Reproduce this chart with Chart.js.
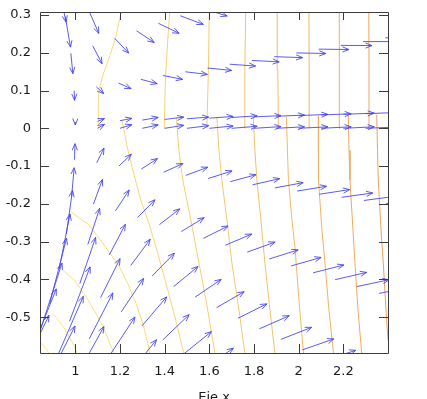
<!DOCTYPE html>
<html>
<head>
<meta charset="utf-8">
<script src="https://cdn.jsdelivr.net/npm/chart.js@4.4.0/dist/chart.umd.min.js"></script>
<style>
  html, body { margin: 0; padding: 0; background: #fff; overflow: hidden; }
  canvas { display: block; }
</style>
</head>
<body>
<canvas id="campo" width="427" height="410"></canvas>
<script>
// axis ranges and tick labels
const xRange = [0.842, 2.4];
const yRange = [-0.595, 0.308];
const xTicks = [1, 1.2, 1.4, 1.6, 1.8, 2, 2.2];
const yTicks = [-0.5, -0.4, -0.3, -0.2, -0.1, 0, 0.1, 0.2, 0.3];

// vectors: tail (arrowX, arrowY) and components (arrowU, arrowV), read row by row
const arrowX = [
  0.9211,
  0.9553, 1.0509,
  0.9801, 1.0781, 1.1761, 1.2741, 1.3721, 1.4701, 1.5681,
  0.995, 1.0945, 1.194, 1.2935, 1.393, 1.4925, 1.592, 1.6915, 1.791, 1.8905, 1.99, 2.0895, 2.189, 2.2885, 2.388,
  1.0, 1.1, 1.2, 1.3, 1.4, 1.5, 1.6, 1.7, 1.8, 1.9, 2.0, 2.1, 2.2, 2.3, 2.4,
  1.1, 1.2, 1.3, 1.4, 1.5, 1.6, 1.7, 1.8, 1.9, 2.0, 2.1, 2.2, 2.3, 2.4,
  0.9965, 1.0962, 1.1958, 1.2955, 1.3952, 1.4948, 1.5945, 1.6941, 1.7938, 1.8934, 1.9931, 2.0927, 2.1924, 2.292, 2.3917,
  0.9833, 1.0816, 1.1799, 1.2783, 1.3766, 1.4749, 1.5732, 1.6716, 1.7699, 1.8682, 1.9665, 2.0649, 2.1632, 2.2615, 2.3598,
  0.9602, 1.0562, 1.1522, 1.2482, 1.3442, 1.4403, 1.5363, 1.6323, 1.7283, 1.8243, 1.9203, 2.0164, 2.1124,
  0.9275, 1.0202, 1.113, 1.2057, 1.2985, 1.3912, 1.484, 1.5767,
  0.8855, 0.9741, 1.0626, 1.1512, 1.2397,
  0.8347, 0.9182, 1.0016,
  0.7756, 0.8531,
  0.7087
];
const arrowY = [
  0.3894,
  0.2955, 0.3251,
  0.1987, 0.2185, 0.2384, 0.2583, 0.2781, 0.298, 0.3179,
  0.0998, 0.1098, 0.1198, 0.1298, 0.1398, 0.1497, 0.1597, 0.1697, 0.1797, 0.1897, 0.1997, 0.2097, 0.2196, 0.2296, 0.2396,
  0.0168, 0.0185, 0.0202, 0.0218, 0.0235, 0.0252, 0.0269, 0.0286, 0.0303, 0.0319, 0.0336, 0.0353, 0.037, 0.0387, 0.0403,
  0, 0, 0, 0, 0, 0, 0, 0, 0, 0, 0, 0, 0, 0,
  -0.0831, -0.0914, -0.0997, -0.108, -0.1163, -0.1247, -0.133, -0.1413, -0.1496, -0.1579, -0.1662, -0.1745, -0.1828, -0.1911, -0.1994,
  -0.1822, -0.2004, -0.2186, -0.2368, -0.2551, -0.2733, -0.2915, -0.3097, -0.3279, -0.3461, -0.3644, -0.3826, -0.4008, -0.419, -0.4372,
  -0.2794, -0.3074, -0.3353, -0.3633, -0.3912, -0.4191, -0.4471, -0.475, -0.503, -0.5309, -0.5589, -0.5868, -0.6147,
  -0.3739, -0.4113, -0.4487, -0.4861, -0.5234, -0.5608, -0.5982, -0.6356,
  -0.4646, -0.511, -0.5575, -0.6039, -0.6504,
  -0.5507, -0.6058, -0.6608,
  -0.6313, -0.6944,
  -0.7055
];
const arrowU = [
  0.0376,
  0.0233, 0.0542,
  0.009, 0.0417, 0.0632, 0.0793, 0.0927, 0.103, 0.112,
  0.0018, 0.033, 0.0558, 0.0732, 0.0874, 0.0986, 0.108, 0.1156, 0.1219, 0.1272, 0.1317, 0.1358, 0.1393, 0.1425, 0.1452,
  0, 0.0305, 0.0533, 0.0712, 0.0856, 0.0972, 0.1066, 0.1142, 0.121, 0.1263, 0.131, 0.1353, 0.1384, 0.1416, 0.1443,
  0.0305, 0.0533, 0.0712, 0.0856, 0.0972, 0.1066, 0.1142, 0.121, 0.1263, 0.131, 0.1353, 0.1384, 0.1416, 0.1443,
  0.0022, 0.0323, 0.0551, 0.0726, 0.0869, 0.0981, 0.1075, 0.1151, 0.1214, 0.1268, 0.1317, 0.1358, 0.1393, 0.142, 0.1447,
  0.0116, 0.0399, 0.0614, 0.0784, 0.0914, 0.1022, 0.1111, 0.1183, 0.1246, 0.1295, 0.134, 0.1375, 0.1411, 0.1438, 0.1465,
  0.0273, 0.0529, 0.0721, 0.0874, 0.0995, 0.1093, 0.1169, 0.1237, 0.129, 0.134, 0.138, 0.1411, 0.1438,
  0.0488, 0.0708, 0.0874, 0.1004, 0.1107, 0.1187, 0.1254, 0.1313,
  0.0753, 0.0923, 0.1057, 0.116, 0.1241,
  0.1057, 0.1178, 0.1268,
  0.1393, 0.1456,
  0.1738
];
const arrowV = [
  -0.1082,
  -0.0804, -0.0738,
  -0.054, -0.0474, -0.0392, -0.031, -0.0265, -0.0228, -0.0206,
  -0.0257, -0.018, -0.0148, -0.0116, -0.0101, -0.0069, -0.0064, -0.0048, -0.0037, -0.0026, -0.0016, -0.0011, -0.0005, 0, 0,
  -0.008, 0.0071, 0.0061, 0.0071, 0.0061, 0.0045, 0.0045, 0.0045, 0.0032, 0.0032, 0.0032, 0.0032, 0.0032, 0.0032, 0.0032,
  0.0106, 0.0095, 0.009, 0.0079, 0.0071, 0.0061, 0.0053, 0.0045, 0.004, 0.004, 0.004, 0.004, 0.0035, 0.0035,
  0.0423, 0.0392, 0.031, 0.0278, 0.023, 0.0217, 0.0201, 0.0185, 0.0164, 0.014, 0.0127, 0.0122, 0.0116, 0.0111, 0.0106,
  0.0778, 0.0651, 0.0553, 0.0476, 0.0418, 0.0368, 0.0328, 0.0296, 0.0267, 0.0243, 0.0225, 0.0206, 0.0193, 0.018, 0.0169,
  0.1148, 0.0955, 0.081, 0.0696, 0.0606, 0.0532, 0.0471, 0.0423, 0.0381, 0.0347, 0.0318, 0.0291, 0.0267,
  0.1471, 0.1223, 0.1035, 0.0886, 0.077, 0.0675, 0.0598, 0.0535,
  0.1736, 0.1442, 0.1217, 0.1043, 0.0905,
  0.1937, 0.1609, 0.1358,
  0.2061, 0.1709,
  0.2104
];

// contour lines, from the lowest level to the highest
const contourX = [
  [0.842, 0.8692, 0.887],
  [0.8992, 0.9364, 0.974, 0.9964, 1.0081],
  [0.944, 0.9964, 1.0484, 1.0932, 1.1308, 1.1604, 1.1756],
  [0.9812, 1.0636, 1.1456, 1.198, 1.2352, 1.2724, 1.3024, 1.3248, 1.3324],
  [1.102, 1.103, 1.1075, 1.128, 1.155, 1.181, 1.206],
  [1.2097, 1.2307, 1.2576, 1.2935, 1.3248, 1.3562, 1.3875, 1.4144, 1.4498, 1.4857],
  [1.398, 1.404, 1.413, 1.423],
  [1.4525, 1.4637, 1.4816, 1.513, 1.5488, 1.5892, 1.625],
  [1.589, 1.596, 1.6],
  [1.634, 1.643, 1.6564, 1.6788, 1.7012, 1.733, 1.759],
  [1.757, 1.759, 1.763],
  [1.7966, 1.8042, 1.8132, 1.8311, 1.849, 1.8714, 1.8938],
  [1.909, 1.907, 1.904],
  [1.9453, 1.9498, 1.9543, 1.97, 1.9834, 2.0013, 2.0215],
  [2.048, 2.047, 2.046],
  [2.0878, 2.0887, 2.0887, 2.1044, 2.1178, 2.1357, 2.1559],
  [2.185, 2.183, 2.181],
  [2.2222, 2.2254, 2.2298, 2.2433, 2.2522, 2.2657, 2.2823],
  [2.316, 2.315, 2.314],
  [2.3495, 2.353, 2.3566, 2.3687, 2.379, 2.3911, 2.4001]
];
const contourY = [
  [-0.5655, -0.583, -0.6],
  [-0.4904, -0.5168, -0.5523, -0.5787, -0.5962],
  [-0.3758, -0.4022, -0.4464, -0.4904, -0.5345, -0.5787, -0.5962],
  [-0.2215, -0.2567, -0.3228, -0.367, -0.4109, -0.4639, -0.5168, -0.5697, -0.5962],
  [0, 0.0741, 0.1058, 0.1482, 0.1932, 0.2408, 0.31],
  [0.0198, -0.045, -0.1111, -0.1905, -0.2434, -0.3043, -0.3705, -0.4287, -0.5081, -0.5954],
  [0, 0.1357, 0.2241, 0.31],
  [0.0278, -0.0582, -0.1376, -0.2302, -0.3414, -0.4684, -0.5954],
  [0, 0.1535, 0.31],
  [0.0286, -0.0582, -0.1376, -0.2434, -0.3572, -0.4816, -0.5954],
  [0, 0.1535, 0.31],
  [0.0302, -0.0582, -0.1376, -0.2434, -0.3572, -0.4816, -0.5954],
  [0, 0.1535, 0.31],
  [0.0318, -0.0582, -0.1376, -0.2434, -0.3149, -0.4551, -0.5954],
  [0, 0.1535, 0.31],
  [0.0331, -0.0582, -0.1376, -0.2699, -0.3572, -0.4816, -0.5954],
  [0, 0.1535, 0.31],
  [0.0344, -0.0582, -0.1376, -0.2699, -0.3572, -0.4816, -0.5954],
  [0, 0.1535, 0.31],
  [0.0357, -0.0582, -0.1376, -0.2699, -0.3572, -0.4816, -0.561]
];

const lowColor = [250, 232, 130];
const highColor = [238, 162, 92];
function levelColor(k, n) {
  const t = k / (n - 1);
  const c = lowColor.map((v, i) => Math.round(v + (highColor[i] - v) * t));
  return 'rgb(' + c.join(',') + ')';
}

const datasets = contourX.map((xs, k) => ({
  data: xs.map((v, i) => ({ x: v, y: contourY[k][i] })),
  showLine: true,
  pointRadius: 0,
  borderWidth: 1,
  borderColor: levelColor(k, contourX.length),
  fill: false,
  tension: 0,
  clip: 0
}));

const arrowPlugin = {
  id: 'arrows',
  afterDatasetsDraw(chart) {
    const { ctx, chartArea: a, scales: { x, y } } = chart;
    ctx.save();
    ctx.beginPath();
    ctx.rect(a.left, a.top, a.right - a.left, a.bottom - a.top);
    ctx.clip();
    ctx.strokeStyle = 'rgba(70,70,232,0.88)';
    ctx.lineWidth = 1;
    const head = 7, spread = 0.38;
    for (let i = 0; i < arrowX.length; i++) {
      const x0 = x.getPixelForValue(arrowX[i]);
      const y0 = y.getPixelForValue(arrowY[i]);
      const x1 = x.getPixelForValue(arrowX[i] + arrowU[i]);
      const y1 = y.getPixelForValue(arrowY[i] + arrowV[i]);
      if (Math.hypot(x1 - x0, y1 - y0) < 0.5) continue;
      const ang = Math.atan2(y1 - y0, x1 - x0);
      ctx.beginPath();
      ctx.moveTo(x0, y0);
      ctx.lineTo(x1, y1);
      ctx.moveTo(x1 - head * Math.cos(ang - spread), y1 - head * Math.sin(ang - spread));
      ctx.lineTo(x1, y1);
      ctx.lineTo(x1 - head * Math.cos(ang + spread), y1 - head * Math.sin(ang + spread));
      ctx.stroke();
    }
    ctx.restore();
  }
};

// gnuplot style border with inward ticks on all four sides
const framePlugin = {
  id: 'frame',
  afterDraw(chart) {
    const { ctx, chartArea: a, scales: { x, y } } = chart;
    ctx.save();
    ctx.strokeStyle = '#3c3c3c';
    ctx.lineWidth = 1;
    ctx.beginPath();
    ctx.rect(Math.round(a.left) + 0.5, Math.round(a.top) + 0.5,
      Math.round(a.right - a.left), Math.round(a.bottom - a.top));
    ctx.stroke();
    ctx.beginPath();
    xTicks.forEach(v => {
      const px = Math.round(x.getPixelForValue(v)) + 0.5;
      ctx.moveTo(px, a.bottom); ctx.lineTo(px, a.bottom - 9);
      ctx.moveTo(px, a.top); ctx.lineTo(px, a.top + 8);
    });
    yTicks.forEach(v => {
      const py = Math.round(y.getPixelForValue(v)) + 0.5;
      ctx.moveTo(a.left, py); ctx.lineTo(a.left + 9, py);
      ctx.moveTo(a.right, py); ctx.lineTo(a.right - 9, py);
    });
    ctx.stroke();
    ctx.restore();
  }
};

Chart.defaults.font.family = 'DejaVu Sans';
Chart.defaults.font.size = 13;
Chart.defaults.color = '#1a1a1a';

const ctx = document.getElementById('campo').getContext('2d');
const chart = new Chart(ctx, {
  type: 'scatter',
  data: { datasets: datasets },
  options: {
    responsive: false,
    animation: false,
    layout: { padding: { left: 0, right: 39, top: 12, bottom: 0 } },
    plugins: { legend: { display: false }, tooltip: { enabled: false } },
    scales: {
      x: {
        type: 'linear',
        min: xRange[0],
        max: xRange[1],
        afterBuildTicks: s => { s.ticks = xTicks.map(v => ({ value: v })); },
        afterFit: s => { s.height = 57; s.paddingLeft = 0; s.paddingRight = 0; },
        grid: { display: false, drawTicks: false },
        border: { display: false },
        ticks: {
          padding: 11,
          maxRotation: 0,
          callback: v => String(Math.round(v * 10) / 10)
        },
        title: { display: true, text: 'Eje x', padding: { top: 0, bottom: 5 } }
      },
      y: {
        type: 'linear',
        min: yRange[0],
        max: yRange[1],
        afterBuildTicks: s => { s.ticks = yTicks.map(v => ({ value: v })); },
        afterFit: s => { s.width = 40; s.paddingTop = 0; s.paddingBottom = 0; },
        grid: { display: false, drawTicks: false },
        border: { display: false },
        ticks: {
          padding: 9,
          callback: v => String(Math.round(v * 10) / 10)
        }
      }
    }
  },
  plugins: [arrowPlugin, framePlugin]
});
</script>
</body>
</html>
